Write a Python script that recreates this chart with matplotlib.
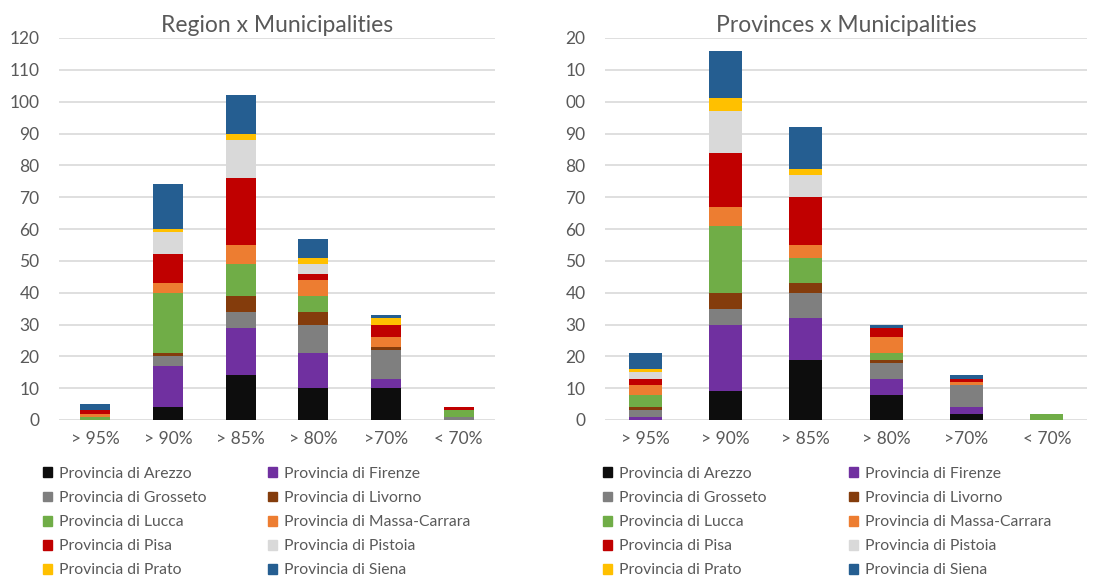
import numpy as np
import matplotlib
matplotlib.use('Agg')
import matplotlib.pyplot as plt
from matplotlib.patches import Patch

plt.rcParams['font.family'] = ['Lato', 'DejaVu Sans']

categories = ['> 95%', '> 90%', '> 85%', '> 80%', '>70%', '< 70%']
provinces = ['Provincia di Arezzo', 'Provincia di Firenze', 'Provincia di Grosseto',
             'Provincia di Livorno', 'Provincia di Lucca', 'Provincia di Massa-Carrara',
             'Provincia di Pisa', 'Provincia di Pistoia', 'Provincia di Prato',
             'Provincia di Siena']
colors = ['#0d0d0d', '#7030a0', '#7f7f7f', '#843c0c', '#70ad47',
          '#ed7d31', '#c00000', '#d9d9d9', '#ffc000', '#255e91']

# Region x Municipalities, one list per province (values per category)
region_arezzo = [0, 4, 14, 10, 10, 0]
region_firenze = [0, 13, 15, 11, 3, 0]
region_grosseto = [0, 3, 5, 9, 9, 1]
region_livorno = [0, 1, 5, 4, 1, 0]
region_lucca = [1, 19, 10, 5, 0, 2]
region_massa = [1, 3, 6, 5, 3, 0]
region_pisa = [1, 9, 21, 2, 4, 1]
region_pistoia = [0, 7, 12, 3, 0, 0]
region_prato = [0, 1, 2, 2, 2, 0]
region_siena = [2, 14, 12, 6, 1, 0]

# Provinces x Municipalities
prov_arezzo = [0, 9, 19, 8, 2, 0]
prov_firenze = [1, 21, 13, 5, 2, 0]
prov_grosseto = [2, 5, 8, 5, 7, 0]
prov_livorno = [1, 5, 3, 1, 0, 0]
prov_lucca = [4, 21, 8, 2, 0, 2]
prov_massa = [3, 6, 4, 5, 1, 0]
prov_pisa = [2, 17, 15, 3, 1, 0]
prov_pistoia = [2, 13, 7, 0, 0, 0]
prov_prato = [1, 4, 2, 0, 0, 0]
prov_siena = [5, 15, 13, 1, 1, 0]

region = [region_arezzo, region_firenze, region_grosseto, region_livorno, region_lucca,
          region_massa, region_pisa, region_pistoia, region_prato, region_siena]
prov = [prov_arezzo, prov_firenze, prov_grosseto, prov_livorno, prov_lucca,
        prov_massa, prov_pisa, prov_pistoia, prov_prato, prov_siena]

yticks = list(range(0, 121, 10))
left_ylabels = [str(v) for v in yticks]
right_ylabels = ['0', '10', '20', '30', '40', '50', '60', '70', '80', '90', '00', '10', '20']

W, H = 1094, 579
fig = plt.figure(figsize=(W / 100, H / 100), dpi=100)
txt = '#595959'


def draw(rect, series, title, ylabels, leg_x):
    ax = fig.add_axes([rect[0] / W, 1 - rect[3] / H, (rect[2] - rect[0]) / W, (rect[3] - rect[1]) / H])
    x = np.arange(len(categories))
    bottom = np.zeros(len(categories))
    for vals, c, name in zip(series, colors, provinces):
        ax.bar(x, vals, 0.41, bottom=bottom, color=c, label=name, zorder=3)
        bottom += np.array(vals)
    ax.set_xlim(-0.5, len(categories) - 0.5)
    ax.set_ylim(0, 120)
    ax.set_yticks(yticks)
    ax.set_yticklabels(ylabels)
    ax.set_xticks(x)
    ax.set_xticklabels(categories)
    ax.tick_params(length=0, labelsize=12.5, labelcolor=txt)
    ax.tick_params(axis='y', pad=14)
    ax.tick_params(axis='x', pad=8)
    ax.grid(axis='y', color='#d9d9d9', lw=1.2, zorder=0)
    for s in ax.spines.values():
        s.set_visible(False)
    ax.set_title(title, fontsize=16.5, color=txt, pad=4)

    # legend in two columns, filled row by row
    handles = [Patch(color=c) for c in colors]
    for col in range(2):
        idx = list(range(col, 10, 2))
        fig.legend([handles[i] for i in idx], [provinces[i] for i in idx],
                   loc='upper left', bbox_to_anchor=(leg_x[col] / W, 1 - 467 / H),
                   frameon=False, fontsize=11.3, labelcolor=txt,
                   handlelength=0.6, handleheight=0.6, handletextpad=0.4,
                   labelspacing=0.64, borderpad=0, borderaxespad=0)
    return ax


draw((59, 38, 495, 420), region, 'Region x Municipalities', left_ylabels, (43, 268))
draw((605, 38, 1087, 420), prov, 'Provinces x Municipalities', right_ylabels, (603, 849))

fig.savefig('out.png', dpi=100, facecolor='white')
